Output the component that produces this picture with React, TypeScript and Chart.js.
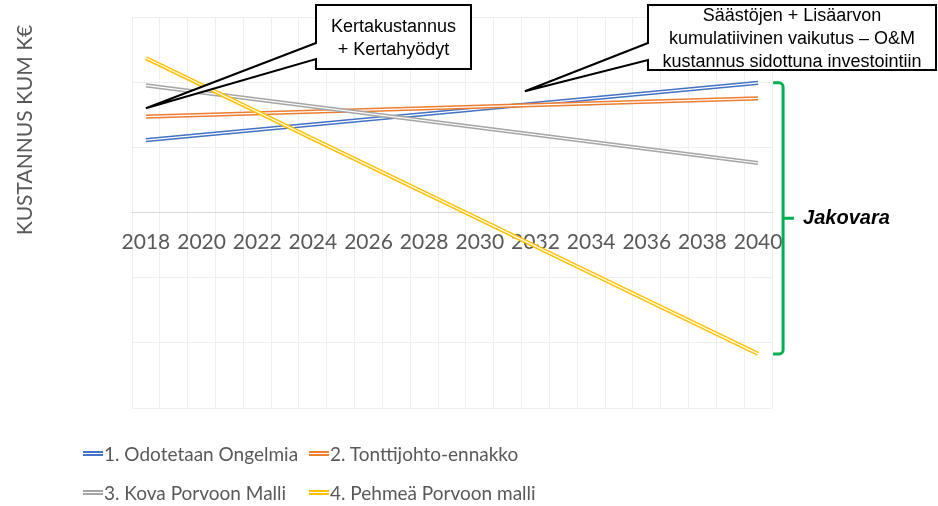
import React, { useEffect, useRef } from 'react';
import { Chart, registerables } from 'chart.js';

Chart.register(...registerables);

// ---------- data ----------
const YEARS = [
  '2018', '2019', '2020', '2021', '2022', '2023', '2024', '2025', '2026', '2027', '2028', '2029',
  '2030', '2031', '2032', '2033', '2034', '2035', '2036', '2037', '2038', '2039', '2040',
];
const X_TICK_LABELS = ['2018', '2020', '2022', '2024', '2026', '2028', '2030', '2032', '2034', '2036', '2038', '2040'];
const Y_TITLE = 'KUSTANNUS KUM K€';

const SERIES_NAMES = [
  '1. Odotetaan Ongelmia',
  '2. Tonttijohto-ennakko',
  '3. Kova Porvoon Malli',
  '4. Pehmeä Porvoon malli',
];
const SERIES_COLORS = ['#4472C4', '#ED7D31', '#A5A5A5', '#FFC000'];

// each series is a straight line between its 2018 and 2040 values
const POINT_YEARS = ['2018', '2040'];
const S1_ODOTETAAN = [111, 199];
const S2_TONTTIJOHTO = [147, 175];
const S3_KOVA = [195, 76];
const S4_PEHMEA = [237, -217];

const Y_MIN = -300;
const Y_MAX = 300;
const Y_STEP = 100;

// annotations
const CALLOUT_1_LINES = ['Kertakustannus', '+ Kertahyödyt'];
const CALLOUT_2_LINES = ['Säästöjen + Lisäarvon', 'kumulatiivinen vaikutus – O&M', 'kustannus sidottuna investointiin'];
const CALLOUT_1_TIP = { index: 0, value: 160 };
const CALLOUT_2_TIP = { index: 13.62, value: 186 };
const BRACKET_LABEL = 'Jakovara';

const ALL_SERIES = [S1_ODOTETAAN, S2_TONTTIJOHTO, S3_KOVA, S4_PEHMEA];

const FONT_UI = 'Lato, "Open Sans", sans-serif';
const TEXT_GREY = '#595959';

const doubleLinePlugin = {
  id: 'doubleLine',
  afterDatasetDraw(chart: any, args: any) {
    const pts = args.meta.data.filter((p: any) => !p.skip);
    if (pts.length < 2) return;
    const ctx = chart.ctx;
    ctx.save();
    ctx.strokeStyle = '#ffffff';
    ctx.lineWidth = 1.2;
    ctx.beginPath();
    ctx.moveTo(pts[0].x, pts[0].y);
    for (let i = 1; i < pts.length; i++) ctx.lineTo(pts[i].x, pts[i].y);
    ctx.stroke();
    ctx.restore();
  },
};

function drawCallout(
  ctx: CanvasRenderingContext2D,
  box: { l: number; t: number; r: number; b: number; w1: number; w2: number },
  tip: { x: number; y: number },
  lines: string[],
  lineY: number[],
) {
  ctx.save();
  ctx.beginPath();
  ctx.moveTo(box.l, box.t);
  ctx.lineTo(box.r, box.t);
  ctx.lineTo(box.r, box.b);
  ctx.lineTo(box.l, box.b);
  ctx.lineTo(box.l, box.w2);
  ctx.lineTo(tip.x, tip.y);
  ctx.lineTo(box.l, box.w1);
  ctx.closePath();
  ctx.fillStyle = '#ffffff';
  ctx.fill();
  ctx.lineWidth = 2;
  ctx.lineJoin = 'miter';
  ctx.strokeStyle = '#000000';
  ctx.stroke();
  ctx.fillStyle = '#000000';
  ctx.font = '18px "Liberation Sans", Arial, sans-serif';
  ctx.textAlign = 'center';
  ctx.textBaseline = 'middle';
  const cx = (box.l + box.r) / 2;
  lines.forEach((t, i) => ctx.fillText(t, cx, lineY[i]));
  ctx.restore();
}

const overlayPlugin = {
  id: 'overlay',
  afterDraw(chart: any) {
    const ctx: CanvasRenderingContext2D = chart.ctx;
    const xs = chart.scales.x;
    const ys = chart.scales.y;

    // y axis title
    ctx.save();
    ctx.translate(25, 130);
    ctx.rotate(-Math.PI / 2);
    ctx.font = '21px ' + FONT_UI;
    ctx.fillStyle = TEXT_GREY;
    ctx.textAlign = 'center';
    ctx.textBaseline = 'middle';
    ctx.fillText(Y_TITLE, 0, 0);
    ctx.restore();

    // callouts
    drawCallout(
      ctx,
      { l: 316, t: 5, r: 471, b: 69, w1: 43, w2: 59 },
      { x: xs.getPixelForValue(CALLOUT_1_TIP.index), y: ys.getPixelForValue(CALLOUT_1_TIP.value) },
      CALLOUT_1_LINES,
      [27, 50],
    );
    drawCallout(
      ctx,
      { l: 648, t: 5, r: 936, b: 70, w1: 43, w2: 60 },
      { x: xs.getPixelForValue(CALLOUT_2_TIP.index), y: ys.getPixelForValue(CALLOUT_2_TIP.value) },
      CALLOUT_2_LINES,
      [16, 39, 62],
    );

    // bracket between highest and lowest 2040 value
    const last = YEARS.length - 1;
    const ends = ALL_SERIES.map((s) => s[s.length - 1]);
    const topY = ys.getPixelForValue(Math.max(...ends));
    const botY = ys.getPixelForValue(Math.min(...ends));
    const endX = xs.getPixelForValue(last);
    const x0 = endX + 15;
    const xv = x0 + 10;
    const r = 4;
    const midY = (topY + botY) / 2;
    ctx.save();
    ctx.strokeStyle = '#00B050';
    ctx.lineWidth = 3;
    ctx.lineCap = 'butt';
    ctx.beginPath();
    ctx.moveTo(x0, topY);
    ctx.lineTo(xv - r, topY);
    ctx.arcTo(xv, topY, xv, topY + r, r);
    ctx.lineTo(xv, botY - r);
    ctx.arcTo(xv, botY, xv - r, botY, r);
    ctx.lineTo(x0, botY);
    ctx.moveTo(xv, midY);
    ctx.lineTo(xv + 11, midY);
    ctx.stroke();
    ctx.fillStyle = '#000000';
    ctx.font = 'italic bold 20px "Liberation Sans", Arial, sans-serif';
    ctx.textAlign = 'left';
    ctx.textBaseline = 'middle';
    ctx.fillText(BRACKET_LABEL, xv + 20, midY);
    ctx.restore();
  },
};

export default function App() {
  const canvasRef = useRef<HTMLCanvasElement | null>(null);

  useEffect(() => {
    if (!canvasRef.current) return;
    const order = [4, 3, 2, 1];
    const chart = new Chart(canvasRef.current, {
      type: 'line',
      data: {
        labels: YEARS,
        datasets: ALL_SERIES.map((s, i) => ({
          label: SERIES_NAMES[i],
          data: POINT_YEARS.map((x, j) => ({ x, y: s[j] })),
          borderColor: SERIES_COLORS[i],
          backgroundColor: SERIES_COLORS[i],
          borderWidth: 4.2,
          pointRadius: 0,
          pointHoverRadius: 0,
          tension: 0,
          fill: false,
          order: order[i],
        })),
      },
      options: {
        animation: false,
        responsive: false,
        events: [],
        layout: { padding: { left: 132, right: 166, top: 17, bottom: 98 } },
        plugins: {
          legend: { display: false },
          tooltip: { enabled: false },
          title: { display: false },
        },
        scales: {
          x: {
            type: 'category',
            position: { y: 0 } as any,
            offset: true,
            grid: {
              offset: true,
              color: '#efefef',
              lineWidth: 1,
              drawTicks: false,
            },
            border: { display: true, color: '#d9d9d9', width: 1 },
            ticks: {
              autoSkip: false,
              maxRotation: 0,
              minRotation: 0,
              padding: 17,
              color: TEXT_GREY,
              font: { family: FONT_UI, size: 21 },
              callback: function (this: any, val: any) {
                const lab = this.getLabelForValue(val);
                return X_TICK_LABELS.includes(lab) ? lab : '';
              },
            },
          },
          y: {
            type: 'linear',
            min: Y_MIN,
            max: Y_MAX,
            grid: { color: '#efefef', lineWidth: 1, drawTicks: false },
            border: { display: false },
            ticks: { display: false, stepSize: Y_STEP },
          },
        },
      },
      plugins: [doubleLinePlugin, overlayPlugin],
    });
    return () => chart.destroy();
  }, []);

  return (
    <div style={{ position: 'fixed', left: 0, top: 0, width: 938, height: 506, background: '#ffffff', overflow: 'hidden' }}>
      <canvas ref={canvasRef} width={938} height={506} style={{ position: 'absolute', left: 0, top: 0, width: 938, height: 506 }} />
      <div
        style={{
          position: 'absolute',
          left: 83,
          top: 434,
          display: 'grid',
          gridTemplateColumns: '226px 280px',
          gridAutoRows: '39px',
          fontFamily: FONT_UI,
          fontSize: 19,
          color: TEXT_GREY,
        }}
      >
        {SERIES_NAMES.map((name, i) => (
          <div key={name} style={{ display: 'flex', alignItems: 'center', whiteSpace: 'nowrap' }}>
            <span
              style={{
                display: 'inline-block',
                width: 20,
                height: 1,
                borderTop: `2px solid ${SERIES_COLORS[i]}`,
                borderBottom: `2px solid ${SERIES_COLORS[i]}`,
                marginRight: 1,
              }}
            />
            <span>{name}</span>
          </div>
        ))}
      </div>
    </div>
  );
}
